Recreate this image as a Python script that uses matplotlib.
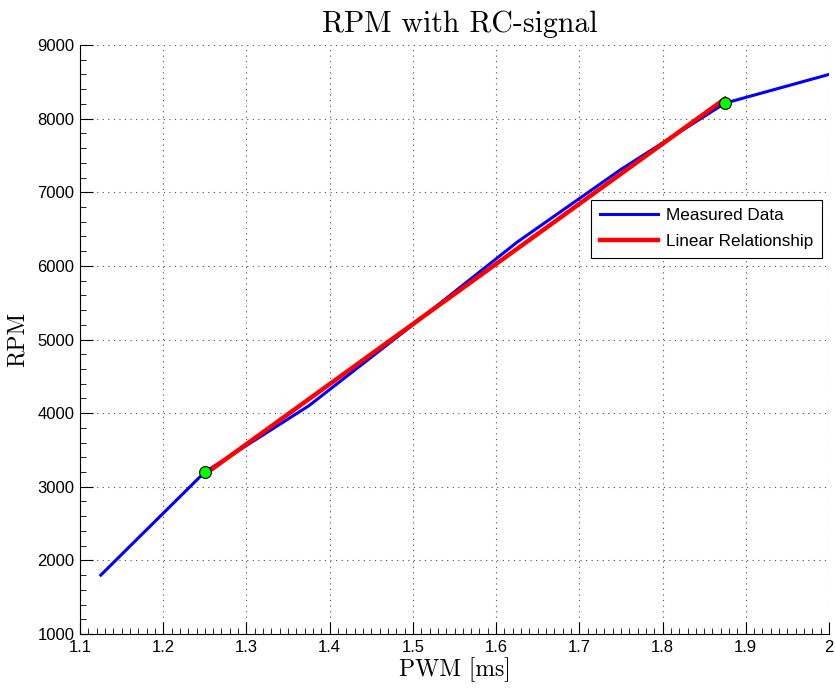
import matplotlib
matplotlib.use("Agg")
import matplotlib.pyplot as plt
from matplotlib.ticker import MultipleLocator

pwm_measured = [1.125, 1.25, 1.375, 1.5, 1.625, 1.75, 1.875, 2.0]
rpm_measured = [1800, 3200, 4100, 5200, 6320, 7310, 8210, 8600]
pwm_linear = [1.25, 1.875]
rpm_linear = [3170, 8270]
pwm_marks = [1.25, 1.875]
rpm_marks = [3200, 8210]
x_ticks = [1.1, 1.2, 1.3, 1.4, 1.5, 1.6, 1.7, 1.8, 1.9, 2.0]
x_tick_labels = ["1.1", "1.2", "1.3", "1.4", "1.5", "1.6", "1.7", "1.8", "1.9", "2"]
y_ticks = [1000, 2000, 3000, 4000, 5000, 6000, 7000, 8000, 9000]

plt.rcParams['font.family'] = ['Liberation Sans', 'DejaVu Sans']
serif = ['cmr10', 'DejaVu Serif']

fig = plt.figure(figsize=(8.35, 6.92), dpi=100)
ax = fig.add_axes([80/835, 1 - 634/692, 749/835, 589/692])

ax.plot(pwm_measured, rpm_measured, color='#0000ff', lw=2.2, label='Measured Data', zorder=3)
ax.plot(pwm_linear, rpm_linear, color='#ff0000', lw=3.2, label='Linear Relationship', zorder=4)
ax.plot(pwm_marks, rpm_marks, 'o', color='#00ff00', mec='black', mew=0.8, ms=8.5, zorder=5)

ax.set_xlim(1.1, 2.0)
ax.set_ylim(1000, 9000)
ax.set_xticks(x_ticks)
ax.set_xticklabels(x_tick_labels)
ax.set_yticks(y_ticks)
ax.xaxis.set_minor_locator(MultipleLocator(0.01))
ax.yaxis.set_minor_locator(MultipleLocator(200))
ax.tick_params(which='major', direction='in', length=9, width=0.8, labelsize=12, pad=4)
ax.tick_params(which='minor', direction='in', length=4, width=0.6)
for s in ('top', 'right'):
    ax.spines[s].set_visible(False)
for s in ('left', 'bottom'):
    ax.spines[s].set_linewidth(0.8)

ax.grid(True, which='major', linestyle=(0, (1, 4)), color='black', lw=0.8, alpha=0.7)

ax.set_title('RPM with RC-signal', family=serif, fontsize=21.5, pad=9, x=0.507)
ax.set_xlabel('PWM [ms]', family=serif, fontsize=17, labelpad=2)
ax.set_ylabel('RPM', family=serif, fontsize=17, labelpad=6)

leg = ax.legend(loc='upper right', bbox_to_anchor=(0.991, 0.737), fontsize=12.3,
                frameon=True, fancybox=False, edgecolor='black', framealpha=1,
                handlelength=3.4, borderpad=0.5, labelspacing=0.62, handletextpad=0.5,
                borderaxespad=0)
leg.get_frame().set_linewidth(0.8)

fig.savefig('out.png', dpi=100)
